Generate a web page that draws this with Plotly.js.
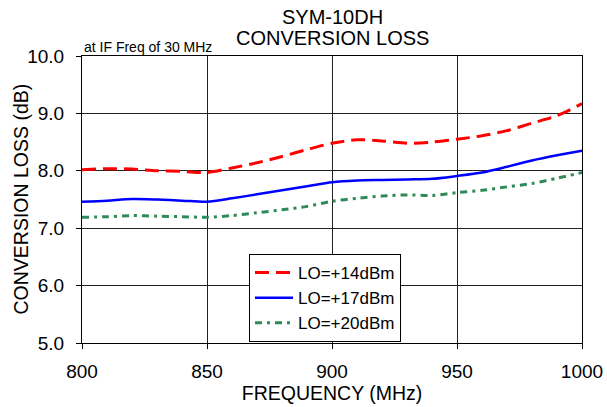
<!DOCTYPE html>
<html>
<head>
<meta charset="utf-8">
<script src="https://cdn.plot.ly/plotly-3.0.1.min.js"></script>
<style>
  html, body { margin: 0; padding: 0; background: #fff; }
  #chart { width: 607px; height: 407px; }
</style>
</head>
<body>
<div id="chart"></div>
<script>
// Frequency grid (MHz)
const freq = [800, 810, 820, 830, 840, 850, 860, 870, 880, 890, 900,
              910, 920, 930, 940, 950, 960, 970, 980, 990, 1000];

// Conversion loss (dB)
const lo14 = [8.02, 8.035, 8.03, 8.00, 7.99, 7.97, 8.05, 8.14, 8.25, 8.37, 8.48,
              8.54, 8.52, 8.48, 8.50, 8.55, 8.61, 8.70, 8.83, 8.96, 9.17];
const lo17 = [7.46, 7.48, 7.51, 7.50, 7.48, 7.46, 7.52, 7.59, 7.66, 7.73, 7.80,
              7.83, 7.84, 7.85, 7.86, 7.91, 7.97, 8.07, 8.18, 8.27, 8.35];
const lo20 = [7.19, 7.20, 7.22, 7.21, 7.20, 7.19, 7.22, 7.27, 7.32, 7.38, 7.47,
              7.52, 7.56, 7.58, 7.57, 7.62, 7.66, 7.72, 7.78, 7.87, 7.97];

const seriesNames = ["LO=+14dBm", "LO=+17dBm", "LO=+20dBm"];
const xTicks = [800, 850, 900, 950, 1000];
const yTicks = [5, 6, 7, 8, 9, 10];
const yTickText = ["5.0", "6.0", "7.0", "8.0", "9.0", "10.0"];

const FONT = "Arial, 'Liberation Sans', sans-serif";

const traces = [
  { x: freq, y: lo14, name: seriesNames[0], mode: "lines",
    line: { color: "#FF0000", width: 3, dash: "14px,7px", shape: "spline", smoothing: 0.8 } },
  { x: freq, y: lo17, name: seriesNames[1], mode: "lines",
    line: { color: "#0000FF", width: 2.5, dash: "solid", shape: "spline", smoothing: 0.8 } },
  { x: freq, y: lo20, name: seriesNames[2], mode: "lines",
    line: { color: "#2E8B57", width: 3, dash: "7px,5px,3px,5px", shape: "spline", smoothing: 0.8 } }
];

const layout = {
  width: 607, height: 407,
  margin: { l: 82, r: 25, t: 56, b: 64 },
  paper_bgcolor: "#fff", plot_bgcolor: "#fff",
  font: { family: FONT, color: "#000", size: 19 },
  showlegend: true,
  legend: {
    x: 0.334, y: 0.31, xanchor: "left", yanchor: "top",
    bgcolor: "#fff", bordercolor: "#000", borderwidth: 1,
    font: { family: FONT, size: 17, color: "#000" },
    tracegroupgap: 0, itemwidth: 38, entrywidth: 120
  },
  xaxis: {
    range: [800, 1000], tickvals: xTicks, ticktext: xTicks.map(String),
    showgrid: true, gridcolor: "#222", gridwidth: 1,
    showline: true, linecolor: "#000", linewidth: 1, mirror: true,
    ticks: "outside", ticklen: 5, tickcolor: "#000",
    tickfont: { family: FONT, size: 19 }, ticklabelstandoff: 6,
    zeroline: false,
    title: { text: "FREQUENCY (MHz)", font: { family: FONT, size: 19.5 }, standoff: 2 }
  },
  yaxis: {
    range: [5, 10], tickvals: yTicks, ticktext: yTickText,
    showgrid: true, gridcolor: "#222", gridwidth: 1,
    showline: true, linecolor: "#000", linewidth: 1, mirror: true,
    ticks: "outside", ticklen: 5, tickcolor: "#000",
    tickfont: { family: FONT, size: 19 }, ticklabelstandoff: 8,
    zeroline: false
  },
  annotations: [
    { text: "SYM-10DH", xref: "paper", yref: "paper", x: 0.5, y: 1.135,
      xanchor: "center", yanchor: "middle", showarrow: false,
      font: { family: FONT, size: 20 } },
    { text: "CONVERSION LOSS", xref: "paper", yref: "paper", x: 0.5, y: 1.062,
      xanchor: "center", yanchor: "middle", showarrow: false,
      font: { family: FONT, size: 20 } },
    { text: "at IF Freq of 30 MHz", xref: "paper", yref: "paper", x: 0.0, y: 1.031,
      xanchor: "left", yanchor: "middle", showarrow: false,
      font: { family: FONT, size: 14 } },
    { text: "CONVERSION LOSS (dB)", xref: "paper", yref: "paper", x: -0.124, y: 0.5,
      xanchor: "center", yanchor: "middle", textangle: -90, showarrow: false,
      font: { family: FONT, size: 19.5 } }
  ]
};

Plotly.newPlot("chart", traces, layout, { staticPlot: true, displayModeBar: false });
</script>
</body>
</html>
